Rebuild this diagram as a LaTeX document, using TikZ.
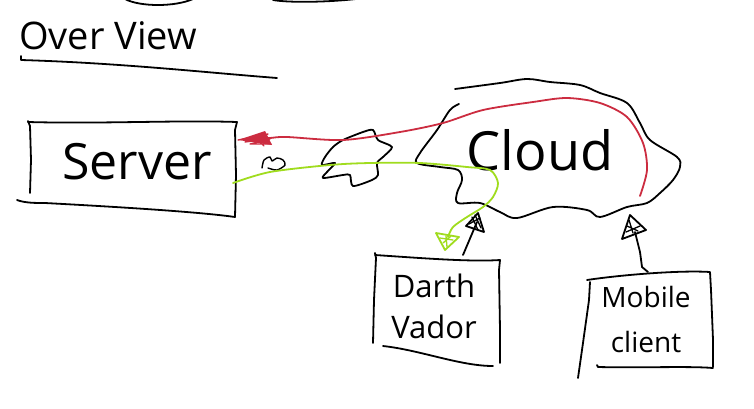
\documentclass[tikz,border=0pt]{standalone}
\usepackage{fontspec}
\setmainfont{Open Sans}
\definecolor{inkred}{RGB}{204,44,64}
\definecolor{inkgreen}{RGB}{160,220,30}
\begin{document}
\begin{tikzpicture}[x=1pt,y=-1pt,
  ink/.style={line width=1.8pt,line cap=round,line join=round},
  redink/.style={ink,draw=inkred},
  greenink/.style={ink,draw=inkgreen},
  label/.style={inner sep=0pt,align=center}]
\useasboundingbox[fill=white] (0,0) rectangle (754,408);

% top arcs (cut off)
\draw[ink] (125,-1) .. controls (140,7) and (175,7) .. (193,-1);
\draw[ink] (273,0) .. controls (290,3) and (330,2) .. (356,-1);

% title
\node[label,font=\fontsize{38}{42}\selectfont] (title) at (108,36) {Over View};
\draw[ink] (21,56) -- (21,60) .. controls (120,63) and (200,72) .. (277,78);

% server
\node[label,font=\fontsize{50}{54}\selectfont] (server) at (137,162) {Server};
\draw[ink] (28,121) -- (30,126) -- (31,160) -- (30,193);
\draw[ink] (28,122) .. controls (100,124) and (180,120) .. (237,122) -- (235,130) -- (236,175) -- (235,217);
\draw[ink] (17,200) .. controls (25,203) and (35,203) .. (45,203) .. controls (120,207) and (200,212) .. (235,217);

% small squiggle
\draw[ink,line width=1.4pt] plot[smooth] coordinates {(262,168) (264,160) (270,157) (272,161) (277,158) (283,160) (285,165) (277,170) (268,168)};

% firewall
\draw[ink] plot[smooth cycle,tension=0.45] coordinates {(343,140) (363,132) (373,130) (378,140) (392,147) (383,157) (377,163) (378,175) (372,180) (353,186) (350,175) (343,175) (323,178) (327,172) (335,163) (322,165) (325,157) (333,147)};

% cloud
\node[label,font=\fontsize{54}{58}\selectfont] (cloud) at (540,150) {Cloud};
\draw[ink] plot[smooth,tension=0.55] coordinates {(455,89) (500,83) (527,79) (550,82) (580,85) (600,93) (627,103) (640,123) (650,140) (677,157) (680,167) (673,180) (660,193) (647,203) (627,207) (600,217) (587,210) (553,207) (517,218) (500,212) (480,203) (458,203) (457,193) (462,180) (458,170) (440,167) (417,163) (420,153) (437,130) (450,110) (459,104)};

% darth vador
\node[label,font=\fontsize{31}{41}\selectfont] (darth) at (434,306) {Darth\\Vador};
\draw[ink] (375,253) -- (376,258) -- (374,300) -- (373,343);
\draw[ink] (375,255) .. controls (420,258) and (470,262) .. (500,260) -- (499,270) -- (500,330) -- (500,363);
\draw[ink] (383,346) .. controls (420,350) and (460,366) .. (493,366);

% mobile client
\node[label,font=\fontsize{28}{45}\selectfont] (mobile) at (646,319) {Mobile\\client};
\draw[ink] (587,280) .. controls (620,275) and (680,270) .. (710,272) -- (711,290) -- (713,340) -- (713,367);
\draw[ink] (590,282) -- (589,300) -- (582,350) -- (578,378);
\draw[ink] (597,365) -- (598,367) .. controls (640,368) and (690,366) .. (713,368);

% connector end points
\coordinate (redstart) at (640,196);
\coordinate (redtip) at (238,140);
\coordinate (greenstart) at (233,183);
\coordinate (greentip) at (445,250);
\coordinate (dvstart) at (463,255);
\coordinate (dvtip) at (478,213);
\coordinate (mcstart) at (648,272);
\coordinate (mctip) at (630,215);

% red connector: cloud -> server
\draw[redink] plot[smooth] coordinates {(redstart) (647,170) (643,143) (627,117) (600,103) (567,98) (533,102) (483,110) (443,123) (400,132) (343,140) (287,137) (270,138) (248,140)};
\fill[inkred] (redtip) -- (265,131) -- (272,145) -- cycle;
\draw[redink,line width=1.3pt] (redtip) -- (268,134) -- (245,142) -- (270,139) -- (250,144) -- (271,144) (255,137) -- (264,146);

% green connector: server -> darth vador
\draw[greenink] plot[smooth] coordinates {(greenstart) (270,172) (330,165) (370,163) (420,163) (467,167) (490,170) (498,183) (493,197) (483,207) (467,217) (453,227) (448,237)};
\draw[greenink] (436,233) -- (459,237) -- (greentip) -- cycle;
\draw[greenink,line width=1.3pt] (440,238) -- (453,240) (443,243) -- (451,236) (446,236) -- (447,247);

% black connector: darth vador -> cloud
\draw[ink] (dvstart) -- (477,222);
\draw[ink] (dvtip) -- (466,226) -- (484,232) -- cycle;
\draw[ink,line width=1.3pt] (472,217) -- (478,230) (475,215) -- (481,228) (469,224) -- (480,218);

% black connector: mobile client -> cloud
\draw[ink] (mcstart) -- (642,267) -- (640,252) -- (635,232);
\draw[ink] (mctip) -- (622,239) -- (646,230) -- cycle;
\draw[ink,line width=1.3pt] (627,226) -- (638,231) (629,220) -- (633,233) (626,232) -- (640,226);
\end{tikzpicture}
\end{document}
